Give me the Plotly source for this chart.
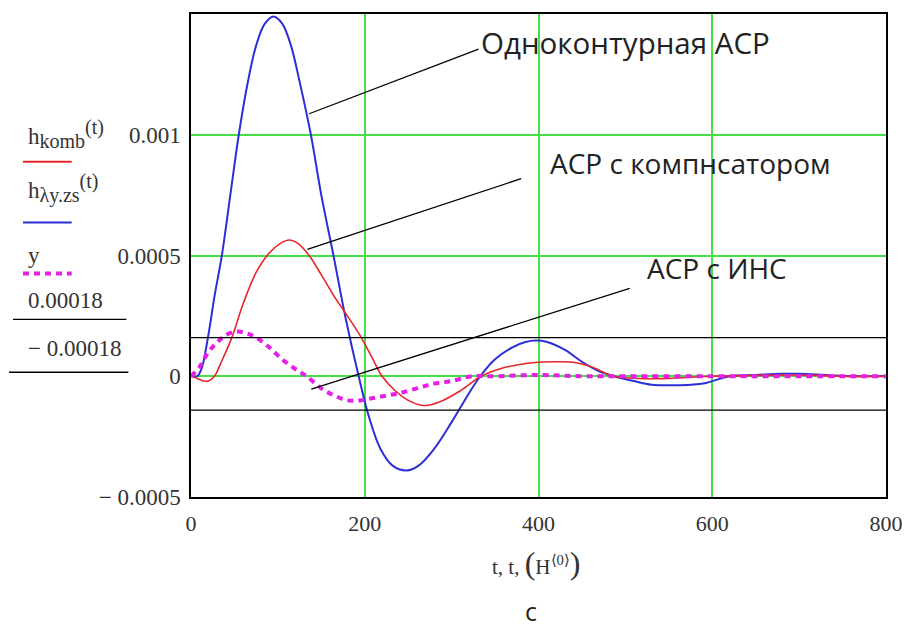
import plotly.graph_objects as go

# ---- data ----
t_single = [0, 7, 12, 19.5, 27, 35.5, 46, 55, 65, 75, 85, 95, 105, 115, 125, 138, 150, 164, 178, 193,
            205, 218, 232, 248, 262, 280, 300, 320, 333, 350, 370, 385, 397, 410, 430, 450, 470, 487,
            510, 530, 560, 590, 620, 650, 680, 700, 730, 760, 800]
h_single = [0, 0, 0.00003, 0.00016, 0.00033, 0.0005, 0.00077, 0.001, 0.00121, 0.00137, 0.00146, 0.00149,
            0.00146, 0.00137, 0.00122, 0.001, 0.00075, 0.0005, 0.00024, 0,
            -0.00017, -0.0003, -0.00037, -0.00039, -0.00037, -0.0003, -0.00019, -0.00007, 0, 0.00007,
            0.00012, 0.000142, 0.000148, 0.000142, 0.00011, 0.00006, 0.00002, 0,
            -0.00002, -0.000035, -0.000037, -0.00003, 0, 0.000005, 0.00001, 0.00001, 0.000005, 0, 0]

t_komb = [0, 8, 15, 20, 27, 35, 47, 60, 75, 90, 103, 113, 123, 136, 150, 165, 180, 196, 208, 220,
          235, 250, 265, 273, 290, 310, 334, 355, 380, 400, 420, 440, 460, 487, 510, 540, 570, 600,
          650, 700, 750, 800]
h_komb = [0, -0.00001, -0.00002, -0.00002, 0, 0.00006, 0.00016, 0.0003, 0.00043, 0.00051, 0.00055,
          0.000564, 0.00055, 0.0005, 0.00042, 0.00033, 0.00025, 0.00016, 0.00008, 0,
          -0.00006, -0.0001, -0.00012, -0.00012, -0.0001, -0.00006, 0, 0.00003, 0.00005, 0.000058,
          0.00006, 0.000058, 0.00004, 0, -0.000008, -0.00001, -0.000005, 0,
          0.000003, 0.000005, 0, 0]

t_ins = [0, 10, 20, 30, 40, 52, 62, 75, 90, 105, 120, 133, 150, 165, 180, 195, 210, 225, 240, 260,
         280, 300, 323, 350, 400, 450, 500, 600, 700, 800]
y_ins = [0, 0.00004, 0.0001, 0.00014, 0.00017, 0.000185, 0.00018, 0.00016, 0.00012, 0.00007, 0.00003,
         0, -0.00005, -0.00008, -0.0001, -0.0001, -0.00009, -0.00008, -0.00007, -0.00005,
         -0.00003, -0.00002, 0, 0, 0.000005, 0, 0, 0, 0, 0]

band_upper = 0.00016
band_lower = -0.00014

x_ticks = [0, 200, 400, 600, 800]
x_ticktext = ["0", "200", "400", "600", "800"]
y_ticks = [-0.0005, 0, 0.0005, 0.001]
y_ticktext = ["\u2212 0.0005", "0", "0.0005", "0.001"]

SUB = "<sub><span style='font-size:20px'>{}</span></sub>"
SUP = "<sup><span style='font-size:20px'>{}</span></sup>"
legend_labels = ["h" + SUB.format("komb") + SUP.format("(t)"),
                 "h" + SUB.format("\u03bby.zs") + SUP.format("(t)"),
                 "y", "0.00018", "\u2212 0.00018"]

callouts = ["Одноконтурная АСР", "АСР с компнсатором", "АСР с ИНС"]

# ---- figure ----
W, H = 915, 629
L, R, T, B = 191, 25, 13, 132
pw, ph = W - L - R, H - T - B


def px(x):
    return (x - L) / pw


def py(y):
    return (H - B - y) / ph


RED = "#e8262a"
BLUE = "#2e2ed8"
MAG = "#e61ee6"
GREEN = "#45e045"
SERIF = "Liberation Serif"
SANS = "Open Sans"
TXT = "#333333"

fig = go.Figure()
fig.add_trace(go.Scatter(x=t_single, y=h_single, mode="lines", line=dict(color=BLUE, width=2, shape="spline"),
                         showlegend=False))
fig.add_trace(go.Scatter(x=t_komb, y=h_komb, mode="lines", line=dict(color=RED, width=1.6, shape="spline"),
                         showlegend=False))
fig.add_trace(go.Scatter(x=t_ins, y=y_ins, mode="lines",
                         line=dict(color=MAG, width=4, dash="6px,5px", shape="spline"), showlegend=False))
for v in (band_upper, band_lower):
    fig.add_trace(go.Scatter(x=[0, 800], y=[v, v], mode="lines", line=dict(color="black", width=1.3),
                             showlegend=False))

fig.update_layout(
    width=W, height=H, margin=dict(l=L, r=R, t=T, b=B),
    paper_bgcolor="white", plot_bgcolor="white",
    xaxis=dict(range=[0, 800], tickvals=x_ticks, ticktext=x_ticktext, showgrid=True, gridcolor=GREEN,
               gridwidth=1.5, zeroline=False, showline=True, linecolor="black", linewidth=1.5, mirror=True,
               ticks="", tickfont=dict(family=SERIF, size=22, color=TXT), ticklabelstandoff=6),
    yaxis=dict(range=[-0.0005, 0.0015], tickvals=y_ticks, ticktext=y_ticktext, showgrid=True, gridcolor=GREEN,
               gridwidth=1.5, zeroline=True, zerolinecolor=GREEN, zerolinewidth=1.5, showline=True,
               linecolor="black", linewidth=1.5, mirror=True, ticks="",
               tickfont=dict(family=SERIF, size=23, color=TXT), ticklabelstandoff=4),
    showlegend=False,
)

# callout lines (data coordinates)
callout_lines = [((136, 0.001087), (331, 0.001355)),
                 ((134, 0.000525), (380, 0.000818)),
                 ((138.5, -0.0000537), (505, 0.000364))]
for (x0, y0), (x1, y1) in callout_lines:
    fig.add_shape(type="line", x0=x0, y0=y0, x1=x1, y1=y1, xref="x", yref="y",
                  line=dict(color="black", width=1.3))

callout_pos = [(481, 42), (550, 162), (648, 268)]
callout_size = [29.5, 28, 28]
for text, (cx, cy), fs in zip(callouts, callout_pos, callout_size):
    fig.add_annotation(text=text, xref="paper", yref="paper", x=px(cx), y=py(cy), xanchor="left",
                       yanchor="middle", showarrow=False, font=dict(family=SANS, size=fs, color="#222222"))

# custom legend on the left
legend_text_y = [133, 188, 255, 300, 348]
for text, yy in zip(legend_labels, legend_text_y):
    fig.add_annotation(text=text, xref="paper", yref="paper", x=px(25), y=py(yy), xanchor="left",
                       yanchor="middle", showarrow=False, font=dict(family=SERIF, size=23, color=TXT))

legend_lines = [(22, 71, 161, RED, 2, "solid"), (22, 71, 222, BLUE, 2, "solid"),
                (22, 71, 273, MAG, 4, "6px,5px"), (12, 126, 319, "black", 1.3, "solid"),
                (8, 128, 372, "black", 1.3, "solid")]
for x0, x1, yy, c, w, d in legend_lines:
    fig.add_shape(type="line", xref="paper", yref="paper", x0=px(x0), x1=px(x1), y0=py(yy), y1=py(yy),
                  line=dict(color=c, width=w, dash=d))

# axis title and caption
fig.add_annotation(text="t, t, <span style='font-size:32px'>(</span>H<sup>\u27e80\u27e9</sup>"
                        "<span style='font-size:32px'>)</span>",
                   xref="paper", yref="paper", x=px(538), y=py(563), xanchor="center", yanchor="middle",
                   showarrow=False, font=dict(family=SERIF, size=21, color=TXT))
fig.add_annotation(text="с", xref="paper", yref="paper", x=px(533), y=py(611), xanchor="center",
                   yanchor="middle", showarrow=False, font=dict(family=SANS, size=25, color="#222222"))

fig.write_html("out.html", post_script="document.body.style.margin='0';",
               config={"displayModeBar": False})
